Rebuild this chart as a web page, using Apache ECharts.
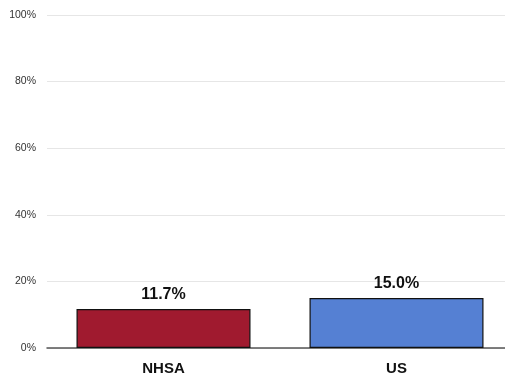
<!DOCTYPE html>
<html>
<head>
<meta charset="utf-8">
<script src="https://cdn.jsdelivr.net/npm/echarts@6/dist/echarts.min.js"></script>
<style>
  html, body { margin: 0; padding: 0; background: #fff; }
  #chart { width: 505px; height: 375px; }
</style>
</head>
<body>
<div id="chart"></div>
<script>
var categories = ['NHSA', 'US'];
var values = [11.7, 15.0];
var barColors = ['#a01a2f', '#5580d3'];

var myChart = echarts.init(document.getElementById('chart'));

var option = {
    animation: false,
    grid: { left: 47, right: -8, top: 15, bottom: 27, outerBoundsMode: 'none' },
    xAxis: {
        type: 'category',
        data: categories,
        axisTick: { show: false },
        axisLine: { lineStyle: { color: '#555', width: 1.5 } },
        axisLabel: {
            color: '#111', fontWeight: 'bold', fontSize: 15,
            fontFamily: 'Liberation Sans', margin: 13
        }
    },
    yAxis: {
        type: 'value',
        min: 0,
        max: 100,
        interval: 20,
        axisLine: { show: false },
        axisTick: { show: false },
        splitLine: { lineStyle: { color: '#e6e6e6' } },
        axisLabel: {
            formatter: '{value}%', color: '#333', fontSize: 10.5,
            fontFamily: 'Liberation Sans', margin: 11
        }
    },
    series: [{
        type: 'bar',
        barWidth: 174,
        data: values.map(function (v, i) {
            return { value: v, itemStyle: { color: barColors[i] } };
        }),
        itemStyle: { borderColor: '#111', borderWidth: 1.2 },
        label: {
            show: true,
            position: 'top',
            distance: 6,
            formatter: function (p) { return p.value.toFixed(1) + '%'; },
            color: '#111', fontWeight: 'bold', fontSize: 16,
            fontFamily: 'Liberation Sans'
        }
    }]
};

myChart.setOption(option, true);
</script>
</body>
</html>
